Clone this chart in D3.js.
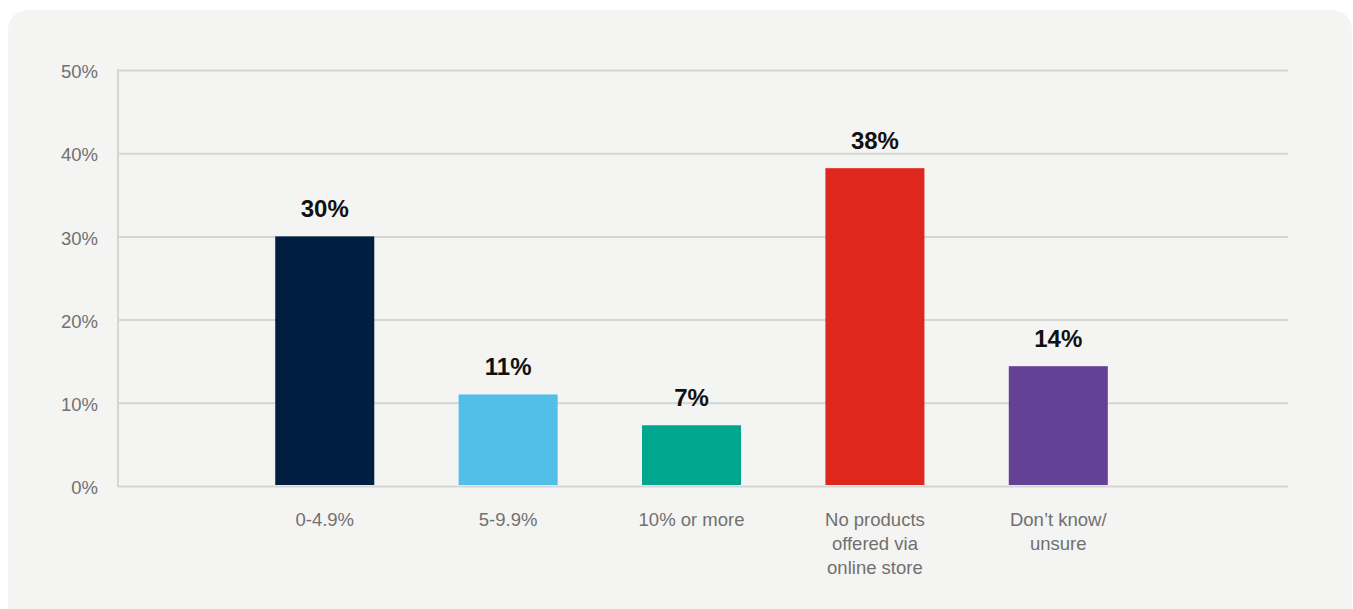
<!DOCTYPE html>
<html>
<head>
<meta charset="utf-8">
<script src="https://cdn.jsdelivr.net/npm/d3@7"></script>
<style>
  html, body { margin: 0; padding: 0; background: #ffffff; }
  svg { display: block; }
  text { font-family: "Liberation Sans", Arial, Helvetica, sans-serif; }
</style>
</head>
<body>
<svg id="chart" width="1353" height="609"></svg>
<script>
// Share of revenue from online store products
const categories = ["0-4.9%", "5-9.9%", "10% or more", "No products offered via online store", "Don’t know/ unsure"];
const categoryLines = [["0-4.9%"], ["5-9.9%"], ["10% or more"], ["No products", "offered via", "online store"], ["Don’t know/", "unsure"]];
const values = [30, 11, 7.3, 38.2, 14.4];
const barColors = ["#001e3f", "#52bfe8", "#00a78e", "#de281d", "#624196"];
const yTicks = [0, 10, 20, 30, 40, 50];

const width = 1353, height = 609;
const margin = { top: 70, right: 65, bottom: 123, left: 118 };

const svg = d3.select("#chart");

// rounded panel behind the chart
svg.append("rect")
  .attr("x", 8).attr("y", 10)
  .attr("width", width - 8 - 1).attr("height", height - 10 + 20)
  .attr("rx", 20).attr("ry", 20)
  .attr("fill", "#f4f4f2");

const x = d3.scaleBand()
  .domain(categories)
  .range([margin.left, width - margin.right])
  .paddingInner(0.46)
  .paddingOuter(0.92)
  .align(0.466);

const y = d3.scaleLinear()
  .domain([0, 50])
  .range([height - margin.bottom, margin.top]);

const gridColor = "#d5d5d5";

// horizontal gridlines and y tick labels
const yAxis = d3.axisLeft(y)
  .tickValues(yTicks)
  .tickSize(-(width - margin.right - margin.left))
  .tickPadding(20)
  .tickFormat(d => d + "%");

const gy = svg.append("g")
  .attr("transform", `translate(${margin.left},0)`)
  .call(yAxis);
gy.select(".domain").remove();
gy.selectAll(".tick line")
  .attr("stroke", gridColor)
  .attr("stroke-width", 2);
gy.selectAll(".tick text")
  .attr("fill", "#707070")
  .attr("font-size", 18.5)
  .attr("dy", "0.42em");

// left axis line
svg.append("line")
  .attr("x1", margin.left).attr("x2", margin.left)
  .attr("y1", y(50) - 1).attr("y2", y(0) + 1)
  .attr("stroke", gridColor)
  .attr("stroke-width", 2);

// bars
svg.append("g")
  .selectAll("rect")
  .data(categories)
  .join("rect")
  .attr("x", d => x(d))
  .attr("width", x.bandwidth())
  .attr("y", (d, i) => y(values[i]))
  .attr("height", (d, i) => y(0) - y(values[i]) - 1)
  .attr("fill", (d, i) => barColors[i]);

// value labels
svg.append("g")
  .selectAll("text")
  .data(categories)
  .join("text")
  .attr("x", d => x(d) + x.bandwidth() / 2)
  .attr("y", (d, i) => y(values[i]) - 19)
  .attr("text-anchor", "middle")
  .attr("font-size", 24)
  .attr("font-weight", "bold")
  .attr("fill", "#111111")
  .text((d, i) => Math.round(values[i]) + "%");

// category labels (wrapped)
const xl = svg.append("g")
  .selectAll("text")
  .data(categories)
  .join("text")
  .attr("x", d => x(d) + x.bandwidth() / 2)
  .attr("y", y(0) + 40)
  .attr("text-anchor", "middle")
  .attr("font-size", 18.5)
  .attr("fill", "#707070");

xl.each(function(d, i) {
  const t = d3.select(this);
  categoryLines[i].forEach((line, j) => {
    t.append("tspan")
      .attr("x", x(d) + x.bandwidth() / 2)
      .attr("dy", j === 0 ? 0 : 24)
      .text(line);
  });
});
</script>
</body>
</html>
